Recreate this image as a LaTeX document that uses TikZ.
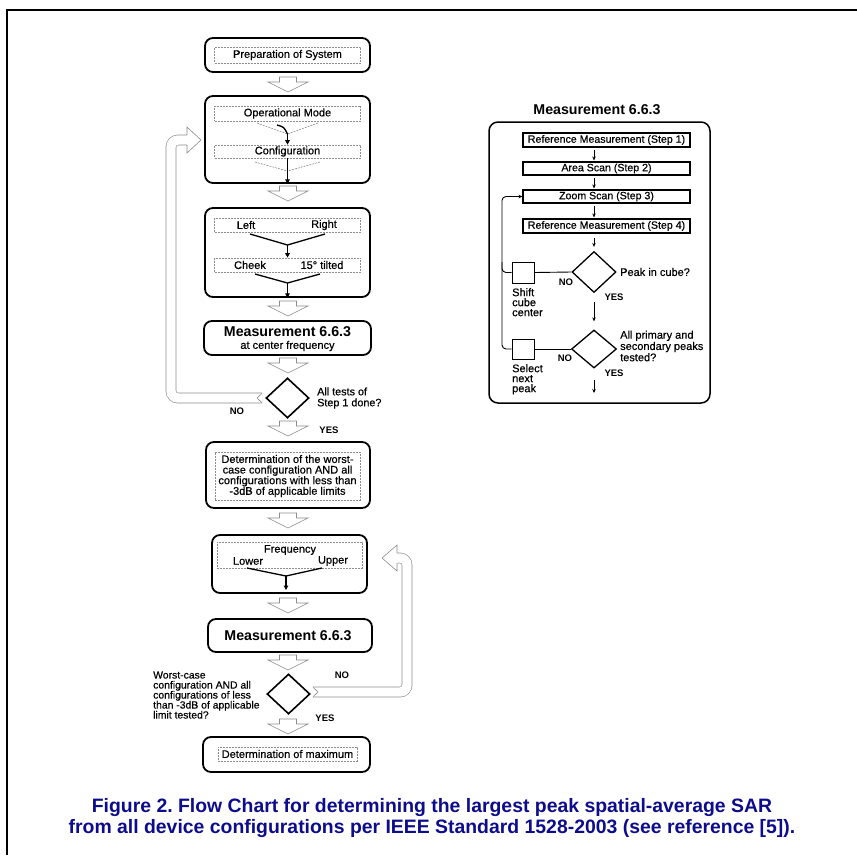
\documentclass[tikz,border=0pt]{standalone}
\usepackage{fontspec}
\setmainfont{Liberation Sans}
\newfontfamily\medfont{Liberation Sans}[FakeBold=0.5]
\usetikzlibrary{shapes.geometric,arrows.meta}
\definecolor{capblue}{RGB}{12,12,140}
\definecolor{lgray}{gray}{0.55}
\frenchspacing
\tikzset{
  outerbox/.style={draw, line width=1.8pt, rounded corners=8pt, inner sep=0pt},
  innerbox/.style={draw=lgray, line width=0.6pt, dash pattern=on 2pt off 1pt, inner sep=0pt,
    font=\medfont\fontsize{11}{10.6}\selectfont, align=center},
  txt/.style={inner sep=0pt, font=\medfont\fontsize{11}{11.5}\selectfont},
  bigtxt/.style={inner sep=0pt, font=\bfseries\fontsize{14.2}{16}\selectfont},
  yesno/.style={inner sep=0pt, font=\bfseries\fontsize{9.5}{10}\selectfont},
  dia/.style={diamond, draw, line width=1.6pt, inner sep=0pt},
  thickln/.style={line width=1.3pt},
  dashln/.style={draw=lgray, line width=0.6pt, dash pattern=on 2pt off 1pt},
  conn/.style={line width=1.3pt, -{Triangle[length=4.5pt,width=4.5pt]}},
  stepbox/.style={draw, line width=1.1pt, inner sep=0pt, minimum width=167pt,
    font=\medfont\fontsize{10.6}{10}\selectfont},
  sarr/.style={line width=0.9pt, -{Stealth[length=4pt,width=3.5pt]}},
  sqbox/.style={draw, line width=1pt, inner sep=0pt},
  rtxt/.style={inner sep=0pt, font=\medfont\fontsize{11}{10}\selectfont, align=left},
  fback/.style={draw=lgray, line width=0.6pt, double=white, double distance=9.4pt, rounded corners=7pt},
  fhead/.style={draw=lgray, line width=0.6pt, fill=white},
  harrow/.pic={\draw[draw=lgray, line width=0.6pt, fill=white]
     (-8.5,0) -- (-8.5,5) -- (-20,5) -- (0,15) -- (20,5) -- (8.5,5) -- (8.5,0) -- cycle;},
  captxt/.style={inner sep=0pt, text=capblue, font=\bfseries\fontsize{19.4}{21}\selectfont}
}
\begin{document}
\begin{tikzpicture}[x=1pt,y=-1pt]
\useasboundingbox (0,0) rectangle (857,855);
% frame
\coordinate (fbl) at (7,855);
\coordinate (ftl) at (7,10);
\coordinate (ftr) at (857,10);
\draw[line width=2.4pt] (fbl) -- (ftl) -- (ftr);

% ---------- left column ----------
\node[outerbox, minimum width=165pt, minimum height=34pt] (b1) at (287.5,55) {};
\node[innerbox, minimum width=146pt, minimum height=16pt] (b1i) at (287.5,55) {Preparation of System};
\pic (h1) at (288,77) {harrow};

\node[outerbox, minimum width=165pt, minimum height=87pt] (b2) at (287.5,139.5) {};
\node[innerbox, minimum width=146pt, minimum height=15pt] (om) at (287.5,113.5) {Operational Mode};
\node[innerbox, minimum width=146pt, minimum height=13pt] (cfg) at (287.5,151.5) {Configuration};
\coordinate (om1) at (257,123);
\coordinate (om2) at (318,123);
\coordinate (om3) at (277,125);
\coordinate (omj) at (287.5,134);
\draw[dashln] (om1) -- (omj);
\draw[dashln] (om2) -- (omj);
\draw[thickln] (om3) .. controls (284,127) .. (omj);
\draw[conn] (omj) -- (cfg.north);
\coordinate (cf1) at (255,162);
\coordinate (cf2) at (320,162);
\coordinate (cfj) at (287.5,171);
\draw[dashln] (cf1) -- (cfj);
\draw[dashln] (cf2) -- (cfj);
\draw[conn] (cfg.south) -- (b2.south);
\pic (h2) at (288,186) {harrow};

\node[outerbox, minimum width=165pt, minimum height=89pt] (b3) at (287.5,252.5) {};
\node[innerbox, minimum width=146pt, minimum height=14pt] (lr) at (287.5,225) {};
\node[txt] (tl) at (246,225) {Left};
\node[txt] (tr) at (324,225) {Right};
\node[innerbox, minimum width=146pt, minimum height=14pt] (ct) at (287.5,265) {};
\node[txt] (tc) at (250,265) {Cheek};
\node[txt] (tt) at (322,265) {15° tilted};
\coordinate (lr1) at (250,234);
\coordinate (lr2) at (325,234);
\coordinate (lrj) at (287.5,245);
\draw[thickln] (lr1) -- (lrj) -- (lr2);
\draw[conn] (lrj) -- (ct.north);
\coordinate (ct1) at (255,274);
\coordinate (ct2) at (320,274);
\coordinate (ctj) at (287.5,283);
\draw[thickln] (ct1) -- (ctj) -- (ct2);
\draw[conn] (ctj) -- (b3.south);
\pic (h3) at (288,301) {harrow};

\node[outerbox, minimum width=167pt, minimum height=34pt] (b4) at (287.5,338) {};
\node[bigtxt] (b4t) at (287.5,332) {Measurement 6.6.3};
\node[txt] (b4s) at (287.5,346) {at center frequency};
\pic (h4) at (288,358) {harrow};

\node[dia, minimum width=43pt, minimum height=40pt] (d1) at (287.5,398) {};
\node[txt, anchor=west, align=left, font=\medfont\fontsize{10.8}{11}\selectfont] (d1t) at (317,398) {All tests of\\Step 1 done?};
\node[yesno] (d1no) at (237,411) {NO};
\node[yesno] (d1yes) at (329,430) {YES};
% left feedback arrow
\coordinate (fa1) at (262,398);
\coordinate (fa2) at (171,398);
\coordinate (fa3) at (171,140);
\coordinate (fa4) at (187,140);
\draw[fback] (fa1) -- (fa2) -- (fa3) -- (fa4);
\draw[fhead] (187,135) -- (187,127) -- (201,140) -- (187,153) -- (187,145);
\draw[draw=white, line width=1pt] (187,135.5) -- (187,144.5);
\draw[draw=lgray, line width=0.6pt] (262,393.3) -- (257,398) -- (262,402.7);
\pic (h5) at (288,421) {harrow};

\node[outerbox, minimum width=164pt, minimum height=66pt] (b5) at (288,475) {};
\node[innerbox, minimum width=145pt, minimum height=48pt] (b5i) at (287.5,476)
  {Determination of the worst-\\case configuration AND all\\configurations with less than\\-3dB of applicable limits};
\pic (h6) at (288,513) {harrow};

\node[outerbox, minimum width=155pt, minimum height=58pt] (b6) at (289.5,564) {};
\node[innerbox, minimum width=145pt, minimum height=26pt] (b6i) at (289.5,555) {};
\node[txt] (fq) at (290,550) {Frequency};
\node[txt] (fl) at (248,561) {Lower};
\node[txt] (fu) at (333,561) {Upper};
\coordinate (fr1) at (247,568);
\coordinate (fr2) at (322,568);
\coordinate (frj) at (286,576);
\coordinate (frd) at (286,590);
\draw[thickln] (fr1) -- (frj) -- (fr2);
\draw[conn] (frj) -- (frd);
\pic (h7) at (288,598) {harrow};

\node[outerbox, minimum width=164pt, minimum height=33pt] (b7) at (290,635.5) {};
\node[bigtxt] (b7t) at (288,636) {Measurement 6.6.3};
\pic (h8) at (288,655) {harrow};

\node[dia, minimum width=43pt, minimum height=40pt] (d2) at (288.5,694) {};
\node[txt, anchor=west, align=left, font=\medfont\fontsize{10.4}{10}\selectfont] (d2t) at (153,695)
  {Worst-case\\configuration AND all\\configurations of less\\than -3dB of applicable\\limit tested?};
\node[yesno] (d2no) at (342,675) {NO};
\node[yesno] (d2yes) at (325,718) {YES};
% right feedback arrow
\coordinate (fb1) at (313,692);
\coordinate (fb2) at (407,692);
\coordinate (fb3) at (407,558);
\coordinate (fb4) at (397,558);
\draw[fback] (fb1) -- (fb2) -- (fb3) -- (fb4);
\draw[fhead] (397,553) -- (397,545) -- (382,558) -- (397,571) -- (397,563);
\draw[draw=white, line width=1pt] (397,553.5) -- (397,562.5);
\draw[draw=lgray, line width=0.6pt] (313,687.3) -- (318,692) -- (313,696.7);
\pic (h9) at (288,719) {harrow};

\node[outerbox, minimum width=167pt, minimum height=35pt] (b8) at (286.5,754.5) {};
\node[innerbox, minimum width=139pt, minimum height=14pt] (b8i) at (287.5,754) {Determination of maximum};

% ---------- right panel ----------
\node[bigtxt] (rt) at (597,110) {Measurement 6.6.3};
\node[draw, line width=1.5pt, rounded corners=9pt, minimum width=221pt, minimum height=281pt] (rp) at (599.5,262.5) {};
\node[stepbox, minimum height=14pt] (s1) at (606.5,140) {Reference Measurement (Step 1)};
\node[stepbox, minimum height=13pt] (s2) at (606.5,168.5) {Area Scan (Step 2)};
\node[stepbox, minimum height=13pt] (s3) at (606.5,196.5) {Zoom Scan (Step 3)};
\node[stepbox, minimum height=14pt] (s4) at (606.5,226) {Reference Measurement (Step 4)};
\node[dia, line width=1.3pt, minimum width=44pt, minimum height=41pt] (d3) at (594,272) {};
\node[dia, line width=1.3pt, minimum width=45pt, minimum height=38pt] (d4) at (594,349) {};
\draw[sarr, shorten <=2pt, shorten >=1pt] (s1.south -| d3.north) -- (s2.north -| d3.north);
\draw[sarr, shorten <=2pt, shorten >=1pt] (s2.south -| d3.north) -- (s3.north -| d3.north);
\draw[sarr, shorten <=2pt, shorten >=1pt] (s3.south -| d3.north) -- (s4.north -| d3.north);
\draw[sarr, shorten <=4pt, shorten >=4pt] (s4.south -| d3.north) -- (d3.north);
\draw[sarr, shorten <=9pt, shorten >=8pt] (d3.south) -- (d4.north);
\coordinate (rend) at (594,393);
\draw[sarr, shorten <=11pt] (d4.south) -- (rend);
\node[sqbox, minimum width=22pt, minimum height=21pt] (q1) at (523,272.5) {};
\node[sqbox, minimum width=22pt, minimum height=20pt] (q2) at (523,349) {};
\draw[line width=0.9pt] (q1.east) -- (d3.west);
\draw[line width=0.9pt] (q2.east) -- (d4.west);
\coordinate (lx) at (502,196.5);
\coordinate (lj) at (502,262);
\draw[sarr, rounded corners=4pt] (q2.west) -| (lx) -- (s3.west);
\draw[line width=0.9pt, rounded corners=4pt] (q1.west) -| (lj);
\node[rtxt, anchor=west] (d3t) at (620,272) {Peak in cube?};
\node[yesno] (d3no) at (566,282) {NO};
\node[yesno] (d3yes) at (614,297) {YES};
\node[rtxt, anchor=north west] (q1t) at (512,288) {Shift\\cube\\center};
\node[rtxt, anchor=west] (d4t) at (620,346) {All primary and\\secondary peaks\\tested?};
\node[yesno] (d4no) at (565,358) {NO};
\node[yesno] (d4yes) at (614,373) {YES};
\node[rtxt, anchor=north west] (q2t) at (512,364) {Select\\next\\peak};

% ---------- caption ----------
\node[captxt] (cap1) at (432,808) {Figure 2. Flow Chart for determining the largest peak spatial-average SAR};
\node[captxt] (cap2) at (432,829) {from all device configurations per IEEE Standard 1528-2003 (see reference [5]).};
\end{tikzpicture}
\end{document}
